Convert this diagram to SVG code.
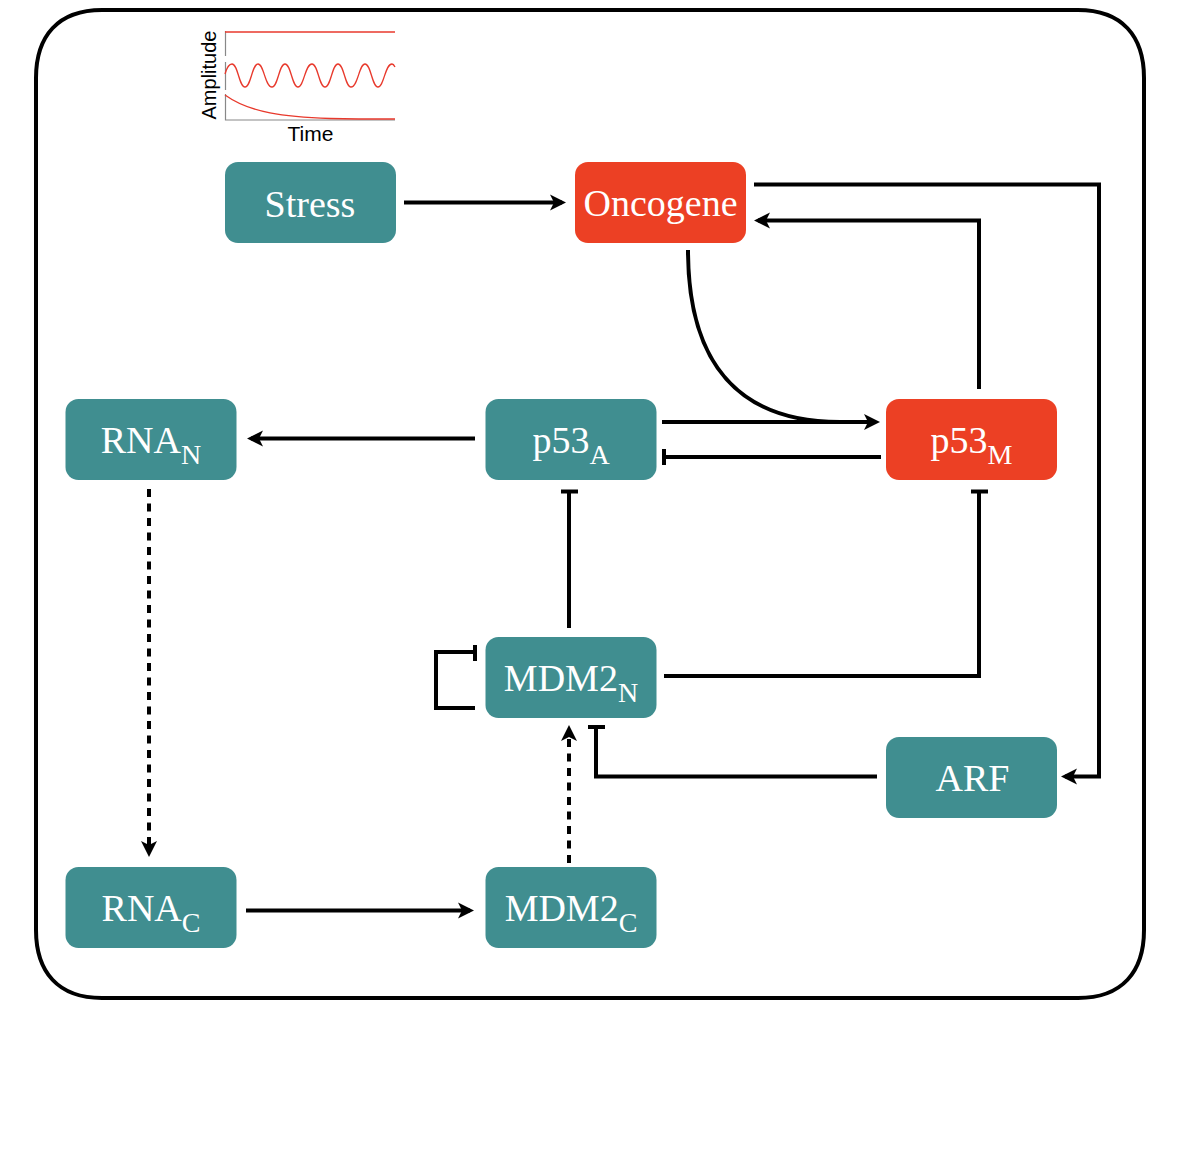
<svg xmlns="http://www.w3.org/2000/svg" width="1180" height="1155" viewBox="0 0 1180 1155">
<style>
.n{fill:#408e90}.r{fill:#ec4024}
.t{font-family:"Liberation Serif",serif;font-size:38px;fill:#fff;text-anchor:middle}
.s{font-size:28px}
.c{fill:none;stroke:#000;stroke-width:4}
.d{stroke-dasharray:8 6.5}
.a{font-family:"Liberation Sans",sans-serif;font-size:20px;fill:#000;text-anchor:middle}
.w{fill:none;stroke:#e8392c;stroke-width:1.3}
</style>
<defs>
<marker id="ah" markerUnits="userSpaceOnUse" markerWidth="20" markerHeight="20" refX="13" refY="10" orient="auto"><path d="M1 2L17 10L1 18L5 10Z" fill="#000"/></marker>
</defs>
<path d="M102 10H1078C1122 10 1144 36 1144 78V930C1144 972 1122 998 1078 998H102C58 998 36 972 36 930V78C36 36 58 10 102 10Z" fill="#fff" stroke="#000" stroke-width="4"/>
<g id="inset">
<path d="M225.500 31V56M225.500 62V90M225.500 94V120H395" fill="none" stroke="#888" stroke-width="1.200"/>
<path class="w" d="M225 32H395"/>
<path class="w" d="M225 74C227 67 229 64 232 64C238 64 239 87 245 87C251 87 252 64 258 64C264 64 265 87 272 87C278 87 279 64 285 64C291 64 292 87 298 87C304 87 305 64 312 64C318 64 319 87 325 87C331 87 332 64 338 64C344 64 345 87 351 87C358 87 359 64 365 64C371 64 372 87 378 87C384 87 385 64 392 64C393 64 394 65 395 67"/>
<path class="w" d="M225 95C250 113 285 117 330 118.500C355 119 375 119 395 119"/>
<text class="a" transform="translate(216 75) rotate(-90)">Amplitude</text>
<text class="a" x="310.500" y="141" style="font-size:21px">Time</text>
</g>
<g id="connectors">
<path class="c" marker-end="url(#ah)" d="M404 202.500H562"/>
<path class="c" marker-end="url(#ah)" d="M754 184.500H1099V776.500H1065"/>
<path class="c" marker-end="url(#ah)" d="M979 389V220.500H758"/>
<path class="c" d="M688 250C688 365 740 422 840 422"/>
<path class="c" marker-end="url(#ah)" d="M662 422H876"/>
<path class="c" d="M881 457H664M664 449V465"/>
<path class="c" marker-end="url(#ah)" d="M475 438.500H251"/>
<path class="c" d="M569 628V491.500M561 491.500H578"/>
<path class="c" d="M664 676H979V491.500M971 491.500H988"/>
<path class="c" d="M475 708H436V652H475M475 645V661"/>
<path class="c" d="M877 776.500H596V727M588 727H605"/>
<path class="c d" marker-end="url(#ah)" d="M149 489V853"/>
<path class="c d" marker-end="url(#ah)" d="M569 863V729"/>
<path class="c" marker-end="url(#ah)" d="M246 910.500H470"/>
</g>
<g id="stress"><rect class="n" x="225" y="162" width="171" height="81" rx="13"/><text class="t" x="310" y="217">Stress</text></g>
<g id="oncogene"><rect class="r" x="575" y="162" width="171" height="81" rx="13"/><text class="t" x="660.500" y="216">Oncogene</text></g>
<g id="rnan"><rect class="n" x="65.500" y="399" width="171" height="81" rx="13"/><text class="t" x="151" y="452.500">RNA<tspan class="s" dy="11">N</tspan></text></g>
<g id="p53a"><rect class="n" x="485.500" y="399" width="171" height="81" rx="13"/><text class="t" x="571" y="452.500">p53<tspan class="s" dy="11">A</tspan></text></g>
<g id="p53m"><rect class="r" x="886" y="399" width="171" height="81" rx="13"/><text class="t" x="971.500" y="452.500">p53<tspan class="s" dy="11">M</tspan></text></g>
<g id="mdm2n"><rect class="n" x="485.500" y="637" width="171" height="81" rx="13"/><text class="t" x="571" y="691">MDM2<tspan class="s" dy="11">N</tspan></text></g>
<g id="arf"><rect class="n" x="886" y="737" width="171" height="81" rx="13"/><text class="t" x="972.500" y="791">ARF</text></g>
<g id="rnac"><rect class="n" x="65.500" y="867" width="171" height="81" rx="13"/><text class="t" x="151" y="921">RNA<tspan class="s" dy="11">C</tspan></text></g>
<g id="mdm2c"><rect class="n" x="485.500" y="867" width="171" height="81" rx="13"/><text class="t" x="571" y="921">MDM2<tspan class="s" dy="11">C</tspan></text></g>
</svg>
